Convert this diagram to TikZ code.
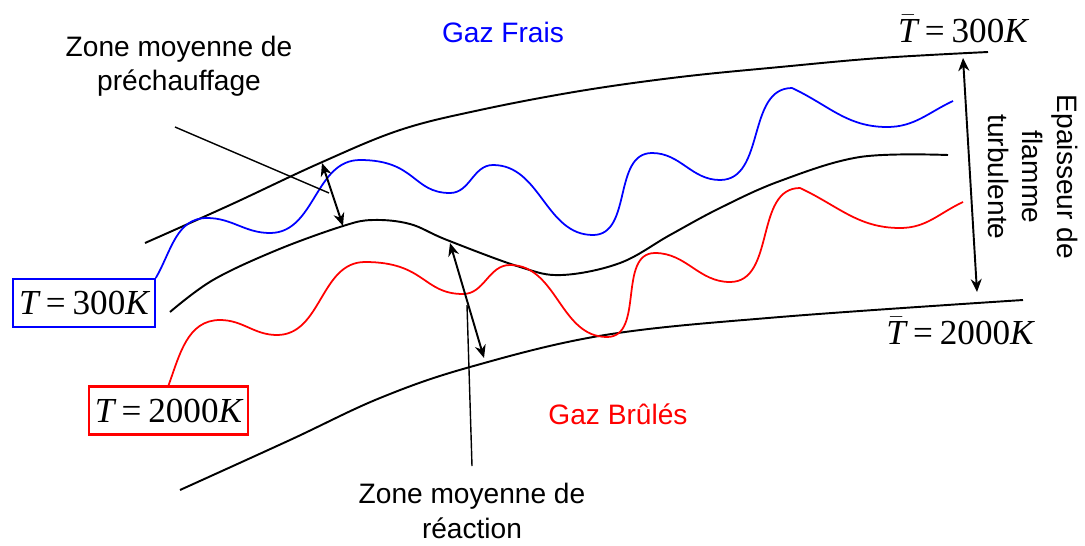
\documentclass[tikz,border=0pt]{standalone}
\usepackage{fontspec}
\setmainfont{Liberation Sans}
\newfontfamily\tnr{Liberation Serif}
\usepackage{tikz}
\usetikzlibrary{positioning, arrows.meta, calc}
\newcommand{\tval}[1]{{\tnr\itshape T\hspace{0.2em}\upshape=\hspace{0.2em}#1\itshape K}}
\newcommand{\tbarval}[1]{{\tnr$\bar{\hbox{\itshape T}}$\hspace{0.2em}=\hspace{0.2em}#1\itshape K}}
\tikzset{
    front/.style={
        line width=1.1pt,
        black
    },
    bluefront/.style={
        line width=1pt,
        blue
    },
    redfront/.style={
        line width=1pt,
        red
    },
    dblarrow/.style={
        line width=1.1pt,
        {Stealth[length=2.6mm,width=2.2mm]}-{Stealth[length=2.6mm,width=2.2mm]}
    },
    leader/.style={
        line width=0.8pt
    },
    lbl/.style={
        align=center,
        font=\fontsize{16}{19.5}\selectfont
    },
    tlbl/.style={
        font=\fontsize{20}{24}\selectfont
    },
    tbox/.style={
        draw,
        line width=1.2pt,
        inner xsep=0.12cm,
        minimum height=0.96cm,
        font=\fontsize{20}{24}\selectfont
    }
}
\begin{document}
\begin{tikzpicture}[x=0.02cm, y=-0.02cm]
\useasboundingbox (0,0) rectangle (1085,545);

%---------------- Fronts moyens ----------------

\draw[front] plot[smooth, tension=0.6] coordinates {(145,243) (230,205) (320,163) (400,130) (480,110) (580,91) (680,77) (780,67) (880,58) (988,52)};
\draw[front] plot[smooth, tension=0.6] coordinates {(170,312) (213,280) (277,250) (343,226) (373,220) (410,224) (447,240) (520,267) (562,275) (620,263) (670,235) (720,208) (780,181) (860,157) (948,155)};
\draw[front] plot[smooth, tension=0.6] coordinates {(180,490) (290,440) (380,398) (470,367) (605,335) (780,317) (1023,300)};

%---------------- Fronts instantanes ----------------

\node[tbox, draw=blue] (t300) at (84,303) {\tval{300}};
\node[tbox, draw=red] (t2000) at (168.5,410.5) {\tval{2000}};

\draw[bluefront] (t300.north east) to[out=60,in=180] (207,218) to[out=0,in=180] (270,233)
  to[out=0,in=180] (360,160) to[out=0,in=180,out looseness=1.5] (450,193) to[out=0,in=180] (493,165)
  to[out=0,in=180] (593,235) to[out=0,in=180] (652,153) to[out=0,in=180] (720,180)
  to[out=0,in=180] (792,88) to[out=-25,in=180] (887,127) to[out=0,in=205] (953,101);
\draw[redfront] (t2000.north) to[out=70,in=180] (220,320) to[out=0,in=180] (277,335)
  to[out=0,in=180] (365,262) to[out=0,in=180,out looseness=1.5] (463,294) to[out=0,in=180] (510,265)
  to[out=0,in=180] (607,337) to[out=0,in=180] (655,253) to[out=0,in=180] (730,282)
  to[out=0,in=180] (800,188) to[out=-25,in=180] (900,228) to[out=0,in=205] (963,202);

%---------------- Labels ----------------

\node[lbl, text=blue] (frais) at (503,32) {Gaz Frais};
\node[lbl, text=red] (brules) at (618,414) {Gaz Brûlés};
\node[tlbl] (tb300) at (963,29) {\tbarval{300}};
\node[tlbl] (tb2000) at (960,331) {\tbarval{2000}};
\node[lbl] (prech) at (179,66) {Zone moyenne de\\préchauffage};
\node[lbl] (react) at (472,511) {Zone moyenne de\\réaction};
\node[lbl, rotate=-90] (epais) at (1033,177) {Epaisseur de\\flamme\\turbulente};

%---------------- Fleches ----------------

\coordinate (ph1) at (322,163);
\coordinate (ph2) at (343,226);
\coordinate (re1) at (450,243);
\coordinate (re2) at (484,358);
\coordinate (ep1) at (963,58);
\coordinate (ep2) at (977,292);
\coordinate (phs) at (175,127);
\coordinate (phe) at (329,193);
\coordinate (res) at (467,305);
\coordinate (ree) at (472,466);

\draw[dblarrow] (ph1) -- (ph2);
\draw[dblarrow] (re1) -- (re2);
\draw[dblarrow] (ep1) -- (ep2);
\draw[leader] (phs) -- (phe);
\draw[leader] (res) -- (ree);

\end{tikzpicture}
\end{document}
